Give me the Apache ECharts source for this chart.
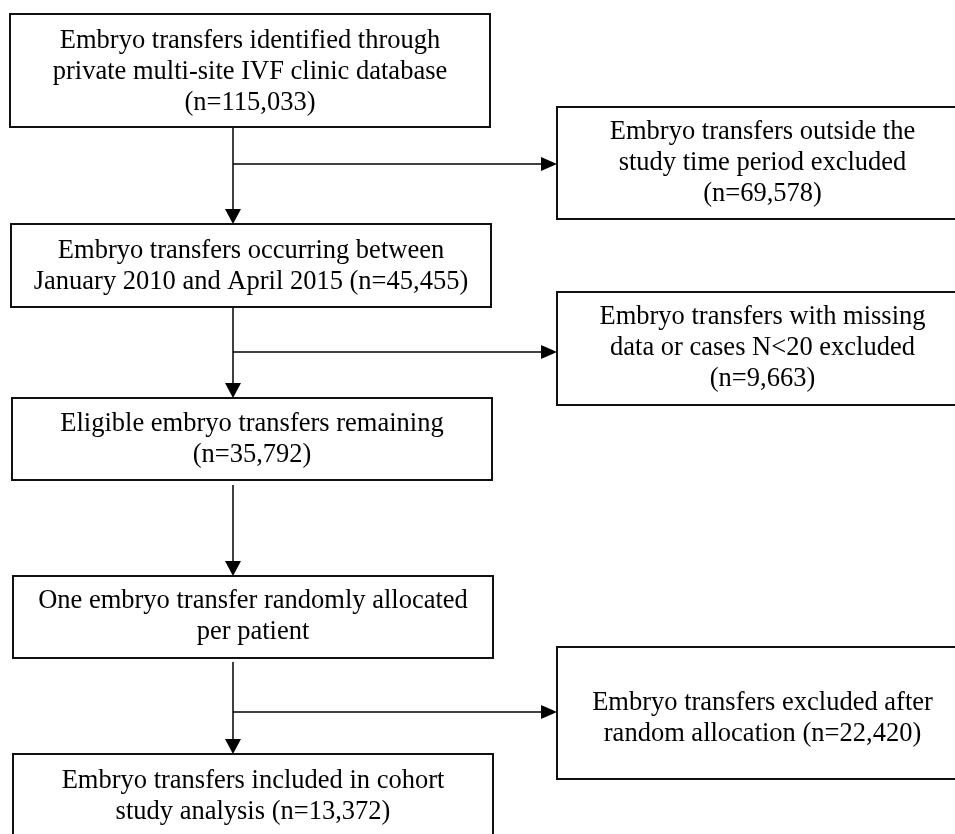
<!DOCTYPE html>
<html>
<head>
<meta charset="utf-8">
<script src="https://cdn.jsdelivr.net/npm/echarts@6/dist/echarts.min.js"></script>
<style>
html,body{margin:0;padding:0;background:#fff;}
#chart{width:955px;height:834px;}
</style>
</head>
<body>
<div id="chart"></div>
<script>
// ---- content (text and counts) ----
const stepLabels = [
  "Embryo transfers identified through\nprivate multi-site IVF clinic database\n(n={n})",
  "Embryo transfers occurring between\nJanuary 2010 and April 2015 (n={n})",
  "Eligible embryo transfers remaining\n(n={n})",
  "One embryo transfer randomly allocated\nper patient",
  "Embryo transfers included in cohort\nstudy analysis (n={n})"
];
const stepCounts = [115033, 45455, 35792, null, 13372];

const exclusionLabels = [
  "Embryo transfers outside the\nstudy time period excluded\n(n={n})",
  "Embryo transfers with missing\ndata or cases N<20 excluded\n(n={n})",
  "Embryo transfers excluded after\nrandom allocation (n={n})"
];
const exclusionCounts = [69578, 9663, 22420];
// which step each exclusion branches from
const exclusionFromStep = [0, 1, 3];

// ---- layout (positions in page units) ----
const stepBoxes = [
  {x0: 10, y0: 14,  x1: 490, y1: 127, ty: 72},
  {x0: 11, y0: 224, x1: 491, y1: 307, ty: 267},
  {x0: 12, y0: 398, x1: 492, y1: 480, ty: 440},
  {x0: 13, y0: 576, x1: 493, y1: 658, ty: 617},
  {x0: 13, y0: 754, x1: 493, y1: 860, ty: 797}
];
const exclusionBoxes = [
  {x0: 557, y0: 107, x1: 968, y1: 219, ty: 163},
  {x0: 557, y0: 292, x1: 968, y1: 405, ty: 348},
  {x0: 557, y0: 647, x1: 968, y1: 779, ty: 719}
];
const spineX = 233;
const connectorStartGap = [0, 0, 5, 4];
const branchY = [164, 352, 712];

const FONT = '26.5px "Liberation Serif", "Times New Roman", serif';

function fmt(n) { return n == null ? '' : n.toLocaleString('en-US'); }
const stepTexts = stepLabels.map((t, i) => t.replace('{n}', fmt(stepCounts[i])));
const exclusionTexts = exclusionLabels.map((t, i) => t.replace('{n}', fmt(exclusionCounts[i])));

const allBoxes = stepBoxes.concat(exclusionBoxes);
const allTexts = stepTexts.concat(exclusionTexts);

function boxRender(params, api) {
  const i = api.value(0);
  const b = allBoxes[i];
  const p0 = api.coord([b.x0, b.y0]);
  const p1 = api.coord([b.x1, b.y1]);
  const pt = api.coord([(b.x0 + b.x1) / 2, b.ty]);
  return {
    type: 'group',
    children: [
      {type: 'rect', shape: {x: p0[0], y: p0[1], width: p1[0] - p0[0], height: p1[1] - p0[1]},
       style: {fill: '#fff', stroke: '#111', lineWidth: 2}},
      {type: 'text', style: {text: allTexts[i], x: pt[0], y: pt[1], align: 'center', verticalAlign: 'middle',
        font: FONT, lineHeight: 31, fill: '#000'}}
    ]
  };
}

function arrowDown(tip) {
  return [[tip[0], tip[1]], [tip[0] - 8, tip[1] - 15], [tip[0] + 8, tip[1] - 15]];
}
function arrowRight(tip) {
  return [[tip[0], tip[1]], [tip[0] - 16, tip[1] - 7], [tip[0] - 16, tip[1] + 7]];
}

function linkRender(params, api) {
  const i = api.value(0); // connector from step i to step i+1
  const from = stepBoxes[i], to = stepBoxes[i + 1];
  const children = [];
  const a = api.coord([spineX, from.y1 + connectorStartGap[i]]);
  const tip = api.coord([spineX, to.y0]);
  children.push({type: 'line', shape: {x1: a[0], y1: a[1], x2: tip[0], y2: tip[1] - 14},
    style: {stroke: '#000', lineWidth: 1.5}});
  children.push({type: 'polygon', shape: {points: arrowDown(tip)}, style: {fill: '#000'}});
  const e = exclusionFromStep.indexOf(i);
  if (e >= 0) {
    const bs = api.coord([spineX, branchY[e]]);
    const bt = api.coord([exclusionBoxes[e].x0, branchY[e]]);
    children.push({type: 'line', shape: {x1: bs[0], y1: bs[1], x2: bt[0] - 15, y2: bt[1]},
      style: {stroke: '#000', lineWidth: 1.5}});
    children.push({type: 'polygon', shape: {points: arrowRight(bt)}, style: {fill: '#000'}});
  }
  return {type: 'group', children};
}

const chart = echarts.init(document.getElementById('chart'), null, {renderer: 'canvas'});
chart.setOption({
  backgroundColor: '#fff',
  animation: false,
  grid: {left: 0, right: 0, top: 0, bottom: 0},
  xAxis: {type: 'value', min: 0, max: 955, show: false},
  yAxis: {type: 'value', min: 0, max: 834, inverse: true, show: false},
  series: [
    {
      type: 'custom', clip: false, silent: true,
      data: stepBoxes.slice(0, -1).map((_, i) => [i]),
      encode: {x: -1, y: -1},
      renderItem: linkRender
    },
    {
      type: 'custom', clip: false, silent: true,
      data: allBoxes.map((_, i) => [i]),
      encode: {x: -1, y: -1},
      renderItem: boxRender
    }
  ]
});
</script>
</body>
</html>
